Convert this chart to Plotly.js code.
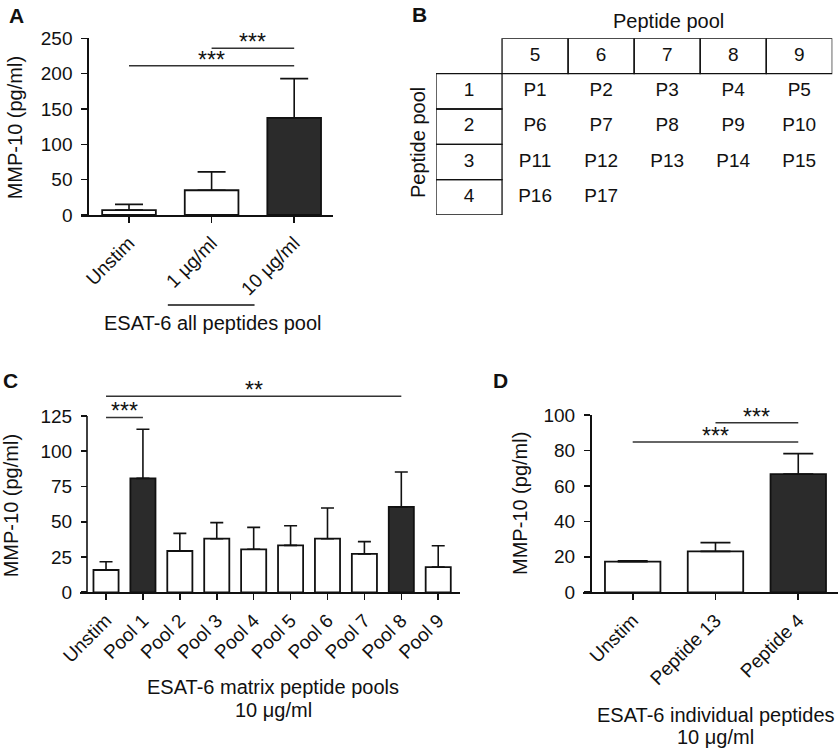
<!DOCTYPE html>
<html>
<head>
<meta charset="utf-8">
<script src="https://cdn.plot.ly/plotly-3.0.1.min.js"></script>
<style>html,body{margin:0;padding:0;background:#fff;}#chart{width:840px;height:748px;}</style>
</head>
<body>
<div id="chart"></div>
<script>
// ---------- DATA ----------
// Panel A
const catA = ['Unstim', '1 µg/ml', '10 µg/ml'];
const meanA = [7, 35, 137.5];
const semA = [8, 26, 55.5];
const sigA_from = [1, 0];
const sigA_to = [2, 2];
const sigA_y = [236, 211];
const sigA_text = ['***', '***'];

// Panel B (peptide matrix)
const colPools = ['5', '6', '7', '8', '9'];
const rowPools = ['1', '2', '3', '4'];
const matrixRow1 = ['P1', 'P2', 'P3', 'P4', 'P5'];
const matrixRow2 = ['P6', 'P7', 'P8', 'P9', 'P10'];
const matrixRow3 = ['P11', 'P12', 'P13', 'P14', 'P15'];
const matrixRow4 = ['P16', 'P17'];

// Panel C
const catC = ['Unstim', 'Pool 1', 'Pool 2', 'Pool 3', 'Pool 4', 'Pool 5', 'Pool 6', 'Pool 7', 'Pool 8', 'Pool 9'];
const meanC = [15.8, 80.8, 29.3, 38, 30.5, 33.3, 38, 27.2, 60.5, 17.9];
const semC = [5.9, 34.8, 12.5, 11.4, 15.5, 13.9, 21.8, 8.7, 24.8, 15.1];
const sigC_from = [0, 0];
const sigC_to = [1, 8];
const sigC_y = [124, 139];
const sigC_text = ['***', '**'];

// Panel D
const catD = ['Unstim', 'Peptide 13', 'Peptide 4'];
const meanD = [17.3, 23.1, 66.7];
const semD = [0.5, 4.9, 11.5];
const sigD_from = [1, 0];
const sigD_to = [2, 2];
const sigD_y = [95.6, 84.8];
const sigD_text = ['***', '***'];

// ---------- STYLE ----------
const W = 840, H = 748;
const px = x => x / W;
const py = y => 1 - y / H;
const FONT = 'Liberation Sans, Arial, Helvetica, sans-serif';
const INK = '#111';
const DARK = '#2b2b2b';
const darkA = [2], darkC = [1, 8], darkD = [2];
const fillFor = (n, dark) => Array.from({length: n}, (_, i) => dark.includes(i) ? DARK : '#fff');

function barTrace(cats, means, sems, dark, xa, ya, width, capHalf) {
  return {
    type: 'bar', x: cats, y: means, xaxis: xa, yaxis: ya, width: width,
    marker: {color: fillFor(cats.length, dark), line: {color: INK, width: 1.8}},
    error_y: {type: 'data', symmetric: false, array: sems, arrayminus: sems.map(() => 0),
              color: INK, thickness: 1.6, width: capHalf},
    hoverinfo: 'skip', showlegend: false
  };
}

const traces = [];
const annotations = [];
const shapes = [];

function sigLines(cats, from, to, yv, txt, xa, ya, xref, yref) {
  for (let i = 0; i < from.length; i++) {
    traces.push({type: 'scatter', mode: 'lines', x: [cats[from[i]], cats[to[i]]], y: [yv[i], yv[i]],
      xaxis: xa, yaxis: ya, line: {color: '#333', width: 1.5}, hoverinfo: 'skip', showlegend: false});
    annotations.push({xref: xref, yref: yref, x: (from[i] + to[i]) / 2, y: yv[i], text: txt[i],
      showarrow: false, xanchor: 'center', yanchor: 'bottom', yshift: -9,
      font: {family: FONT, size: 23, color: INK}});
  }
}

traces.push(barTrace(catA, meanA, semA, darkA, 'x', 'y', 0.65, 14));
traces.push(barTrace(catC, meanC, semC, darkC, 'x2', 'y2', 0.68, 6.5));
traces.push(barTrace(catD, meanD, semD, darkD, 'x3', 'y3', 0.67, 15));
sigLines(catA, sigA_from, sigA_to, sigA_y, sigA_text, 'x', 'y', 'x', 'y');
sigLines(catC, sigC_from, sigC_to, sigC_y, sigC_text, 'x2', 'y2', 'x2', 'y2');
sigLines(catD, sigD_from, sigD_to, sigD_y, sigD_text, 'x3', 'y3', 'x3', 'y3');

// ---------- Panel B table ----------
const matrixRows = [matrixRow1, matrixRow2, matrixRow3, matrixRow4];
const tX = [], tY = [], tT = [];
colPools.forEach((c, i) => {
  shapes.push({type: 'rect', xref: 'x4', yref: 'y4', x0: i + 0.5, x1: i + 1.5, y0: -0.5, y1: 0.5,
    line: {color: INK, width: 1.3}});
  tX.push(i + 1); tY.push(0); tT.push(c);
});
rowPools.forEach((r, j) => {
  shapes.push({type: 'rect', xref: 'x4', yref: 'y4', x0: -0.5, x1: 0.5, y0: j + 0.5, y1: j + 1.5,
    line: {color: INK, width: 1.3}});
  tX.push(0); tY.push(j + 1); tT.push(r);
});
matrixRows.forEach((row, j) => row.forEach((p, i) => { tX.push(i + 1); tY.push(j + 1); tT.push(p); }));
traces.push({type: 'scatter', mode: 'text', x: tX, y: tY, text: tT, xaxis: 'x4', yaxis: 'y4',
  textposition: 'middle center', textfont: {family: FONT, size: 19, color: INK},
  hoverinfo: 'skip', showlegend: false, cliponaxis: false});

// y axis line for panel C (stops at 125, sig lines drawn above)
shapes.push({type: 'line', xref: 'paper', yref: 'y2', x0: px(87), x1: px(87), y0: 0, y1: 125,
  line: {color: INK, width: 1.6}});
// grouping line under panel A labels
shapes.push({type: 'line', xref: 'x', yref: 'paper', x0: 0.47, x1: 1.52, y0: py(305), y1: py(305),
  line: {color: INK, width: 1.3}});

// ---------- Text annotations ----------
function txt(x, y, t, size, opts) {
  annotations.push(Object.assign({xref: 'paper', yref: 'paper', x: px(x), y: py(y), text: t, showarrow: false,
    xanchor: 'center', yanchor: 'middle', font: {family: FONT, size: size, color: INK}}, opts || {}));
}
txt(16, 15.5, '<b>A</b>', 21);
txt(419, 14.5, '<b>B</b>', 21);
txt(10.5, 380.5, '<b>C</b>', 21);
txt(500, 380, '<b>D</b>', 21);
txt(15.3, 128, 'MMP-10 (pg/ml)', 20, {textangle: -90});
txt(11.3, 506, 'MMP-10 (pg/ml)', 20, {textangle: -90});
txt(520, 504, 'MMP-10 (pg/ml)', 20, {textangle: -90});
txt(213.3, 323.3, 'ESAT-6 all peptides pool', 20);
txt(273, 686.7, 'ESAT-6 matrix peptide pools', 20);
txt(273, 710, '10 μg/ml', 20);
txt(715.8, 715, 'ESAT-6 individual peptides', 20);
txt(715.8, 736.7, '10 μg/ml', 20);
txt(668, 20.7, 'Peptide pool', 20);
txt(418, 143, 'Peptide pool', 20, {textangle: -90});

// ---------- Axes ----------
const tickFont = {family: FONT, size: 19, color: INK};
function xAx(domain, range) {
  return {domain: domain, range: range, type: 'category', showline: true, linecolor: INK, linewidth: 1.6,
    ticks: 'outside', ticklen: 6, tickwidth: 1.6, tickcolor: INK, tickangle: -45, tickfont: tickFont,
    ticklabelstandoff: 2, showgrid: false, zeroline: false, fixedrange: true};
}
function yAx(domain, range, pos, tickvals, showline) {
  return {domain: domain, range: range, anchor: 'free', position: pos, showline: showline, linecolor: INK,
    linewidth: 1.6, ticks: 'outside', ticklen: 6, tickwidth: 1.6, tickcolor: INK, tickfont: tickFont,
    tickvals: tickvals, ticklabelstandoff: 5, showgrid: false, zeroline: false, fixedrange: true};
}

const layout = {
  width: W, height: H, margin: {l: 0, r: 0, t: 0, b: 0}, paper_bgcolor: '#fff', plot_bgcolor: 'rgba(0,0,0,0)',
  font: {family: FONT, color: INK}, showlegend: false, bargap: 0,
  xaxis: Object.assign(xAx([px(80.7), px(333)], [-0.585, 2.47]), {anchor: 'y'}),
  yaxis: yAx([py(215), py(38.3)], [0, 250], px(87.3), [0, 50, 100, 150, 200, 250], true),
  xaxis2: Object.assign(xAx([px(80), px(460)], [-0.705, 9.59]), {anchor: 'y2'}),
  yaxis2: yAx([py(592.3), py(387.8)], [0, 145], px(87), [0, 25, 50, 75, 100, 125], false),
  xaxis3: Object.assign(xAx([px(582.7), px(838)], [-0.604, 2.48]), {anchor: 'y3'}),
  yaxis3: yAx([py(592.3), py(415)], [0, 100], px(590), [0, 20, 40, 60, 80, 100], true),
  xaxis4: {domain: [px(436), px(832.3)], range: [-0.5, 5.5], visible: false, anchor: 'y4', fixedrange: true},
  yaxis4: {domain: [py(215), py(38.3)], range: [4.5, -0.5], visible: false, anchor: 'x4', fixedrange: true},
  shapes: shapes, annotations: annotations
};

Plotly.newPlot('chart', traces, layout, {staticPlot: true, displayModeBar: false});
</script>
</body>
</html>
